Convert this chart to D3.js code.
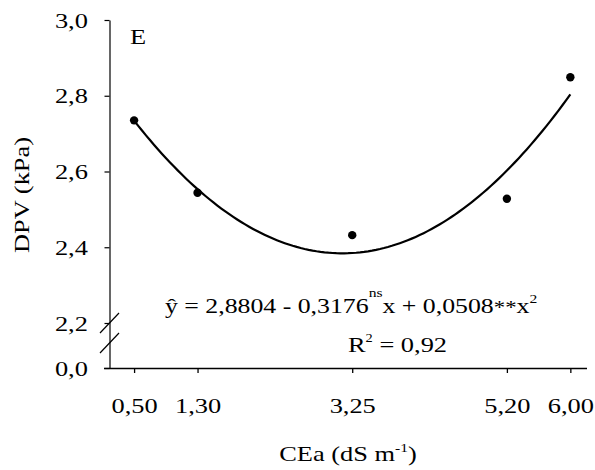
<!DOCTYPE html>
<html>
<head>
<meta charset="utf-8">
<script src="https://cdn.jsdelivr.net/npm/d3@7"></script>
<style>
  body { margin: 0; background: #fff; }
  svg text { font-family: "Liberation Serif", "Times New Roman", serif; fill: #000; }
</style>
</head>
<body>
<svg></svg>
<script>
// salinity levels (CEa) and measured DPV
const ceaLevels = [0.5, 1.3, 3.25, 5.2, 6.0]
const dpvValues = [2.735, 2.544, 2.432, 2.528, 2.849]
const xTickLabels = ["0,50", "1,30", "3,25", "5,20", "6,00"]
const yTickValues = [0, 2.2, 2.4, 2.6, 2.8, 3.0]
const yTickLabels = ["0,0", "2,2", "2,4", "2,6", "2,8", "3,0"]
// quadratic fit given on the chart: y = a + b x + c x^2
const fitCoef = [2.8804, -0.3176, 0.0508]

const stretch = "scale(1.2,1)"

const svg = d3.select("svg")
    .attr("width", 595)
    .attr("height", 470)

const scaleX = d3.scaleLinear()
    .domain([0.19, 6.21])
    .range([109.5, 587])

// broken axis: 0 .. 2.2 squeezed, 2.2 .. 3.0 normal
const scaleY = d3.scaleLinear()
    .domain([0, 2.2, 3.0])
    .range([368, 323, 20])

// x axis
const xAxis = svg.append("g")
    .attr("transform", "translate(0,368)")
    .call(d3.axisBottom(scaleX)
        .tickValues(ceaLevels)
        .tickFormat((d, i) => xTickLabels[i])
        .tickSizeInner(5)
        .tickSizeOuter(0)
        .tickPadding(24))
xAxis.select(".domain").attr("d", "M104,0.5H587").attr("stroke-width", 1.3)
xAxis.selectAll("line").attr("stroke-width", 1.3)
xAxis.selectAll("text")
    .attr("font-size", 22)
    .attr("transform", stretch)

// y axis
const yAxis = svg.append("g")
    .attr("transform", "translate(109.5,0)")
    .call(d3.axisLeft(scaleY)
        .tickValues(yTickValues)
        .tickFormat((d, i) => yTickLabels[i])
        .tickSizeInner(5)
        .tickSizeOuter(0)
        .tickPadding(13))
yAxis.selectAll("line").attr("stroke-width", 1.2)
yAxis.select(".domain").attr("stroke-width", 1.2)
yAxis.selectAll("text")
    .attr("font-size", 22)
    .attr("transform", stretch)

// axis break marks
const breakY = [scaleY(2.2), scaleY(2.2) + 20]
svg.selectAll("line.break")
    .data(breakY)
    .enter()
    .append("line")
    .attr("class", "break")
    .attr("x1", 100)
    .attr("x2", 119)
    .attr("y1", d => d + 10)
    .attr("y2", d => d - 10)
    .attr("stroke", "#000")
    .attr("stroke-width", 1.2)

// fitted curve
const fitPoints = d3.range(0.5, 6.0001, 0.05).map(x => [x, fitCoef[0] + fitCoef[1] * x + fitCoef[2] * x * x])
svg.append("path")
    .datum(fitPoints)
    .attr("fill", "none")
    .attr("stroke", "#000")
    .attr("stroke-width", 2.2)
    .attr("d", d3.line().x(d => scaleX(d[0])).y(d => scaleY(d[1])))

// observed points
svg.selectAll("circle.obs")
    .data(ceaLevels)
    .enter()
    .append("circle")
    .attr("class", "obs")
    .attr("cx", d => scaleX(d))
    .attr("cy", (d, i) => scaleY(dpvValues[i]))
    .attr("r", 4.2)
    .attr("fill", "#000")

// panel letter
svg.append("text")
    .attr("transform", "translate(130,44) " + stretch)
    .attr("font-size", 22)
    .text("E")

// axis titles
svg.append("text")
    .attr("transform", "translate(29,195) rotate(-90) " + stretch)
    .attr("text-anchor", "middle")
    .attr("font-size", 22)
    .text("DPV (kPa)")

const xTitle = svg.append("text")
    .attr("transform", "translate(348,461) " + stretch)
    .attr("text-anchor", "middle")
    .attr("font-size", 22)
xTitle.append("tspan").text("CEa (dS m")
xTitle.append("tspan").attr("font-size", 13).attr("dy", -9).text("-1")
xTitle.append("tspan").attr("dy", 9).text(")")

// regression equation
const eq = svg.append("text")
    .attr("transform", "translate(165,313) " + stretch)
    .attr("font-size", 21.5)
eq.append("tspan").text("ŷ = 2,8804 - 0,3176")
eq.append("tspan").attr("font-size", 13).attr("dy", -16).text("ns")
eq.append("tspan").attr("dy", 16).text("x + 0,0508")
eq.append("tspan").attr("font-size", 19).attr("dy", 1).text("**")
eq.append("tspan").attr("dy", -1).text("x")
eq.append("tspan").attr("font-size", 13).attr("dy", -10).text("2")

const r2 = svg.append("text")
    .attr("transform", "translate(348,352) " + stretch)
    .attr("font-size", 22)
r2.append("tspan").text("R")
r2.append("tspan").attr("font-size", 12).attr("dy", -10).text("2")
r2.append("tspan").attr("dy", 10).text(" = 0,92")
</script>
</body>
</html>
